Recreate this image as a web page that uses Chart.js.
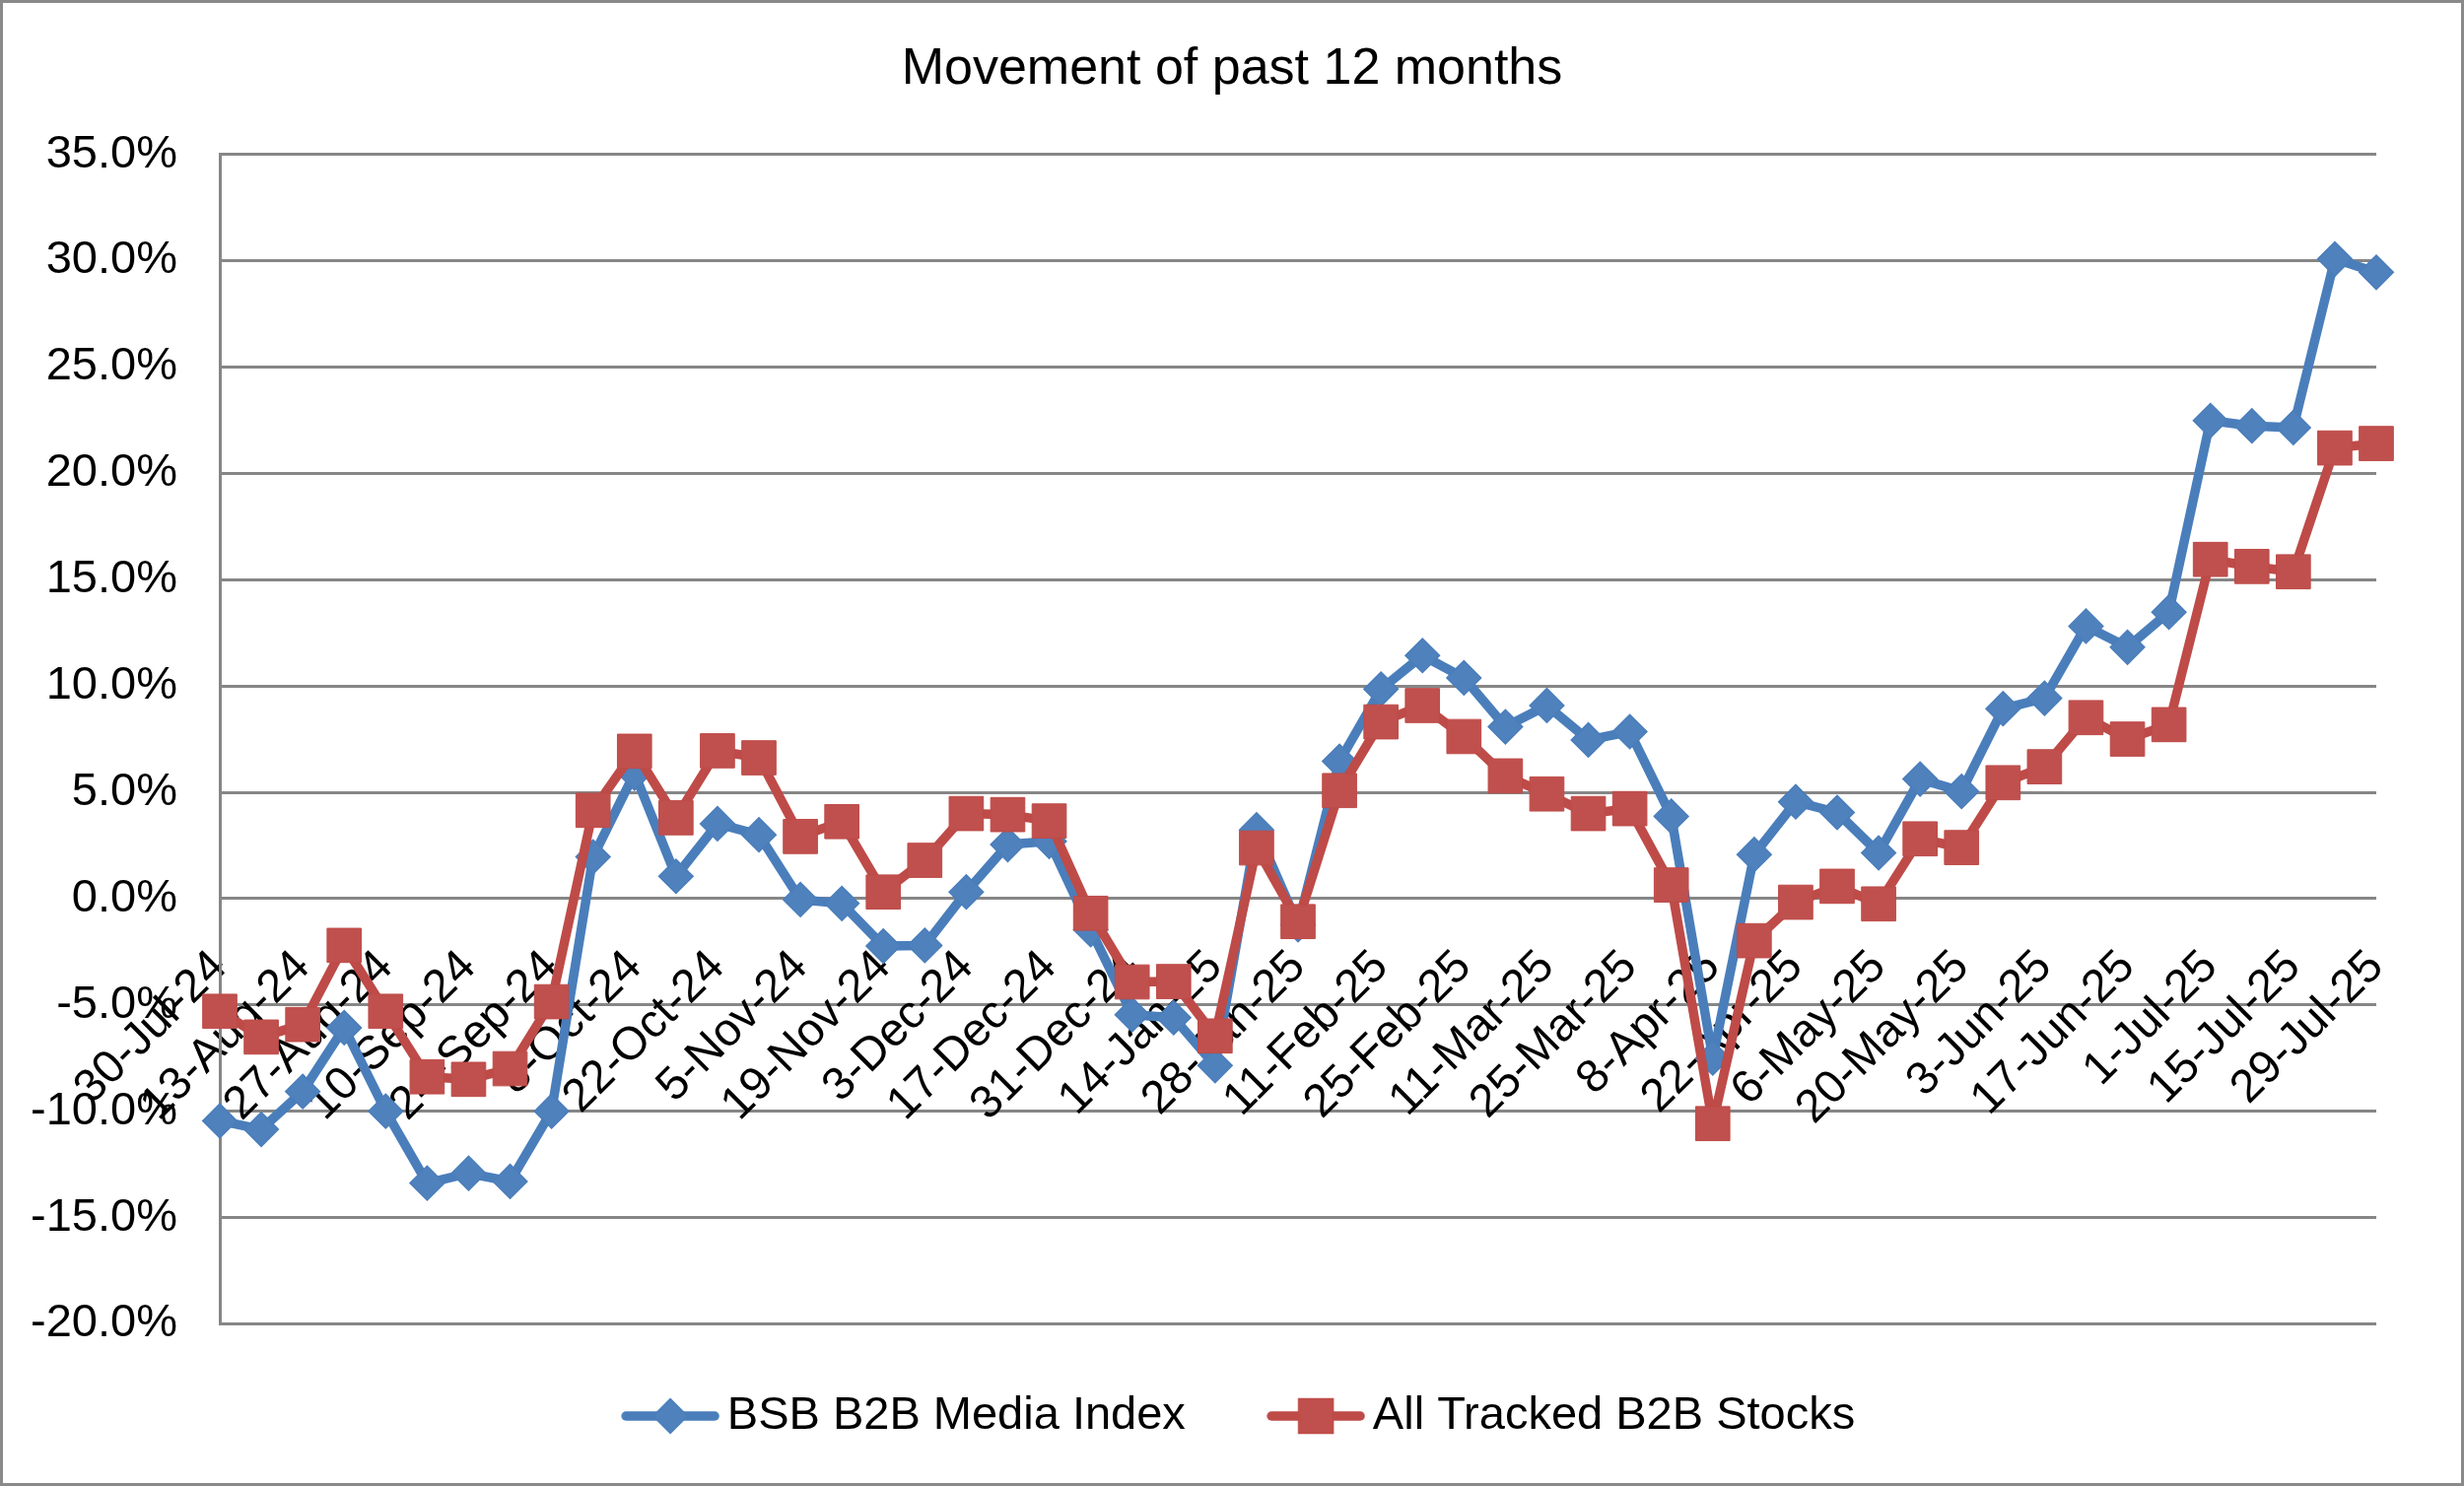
<!DOCTYPE html>
<html>
<head>
<meta charset="utf-8">
<script src="https://cdn.jsdelivr.net/npm/chart.js@4.4.1/dist/chart.umd.min.js"></script>
<style>
  html, body { margin: 0; padding: 0; background: #fff; overflow: hidden; }
  canvas { display: block; }
</style>
</head>
<body>
<canvas id="c" width="2500" height="1508"></canvas>
<script>
// ---------------- DATA ----------------
const chartTitle = 'Movement of past 12 months';
const seriesNames = ['BSB B2B Media Index', 'All Tracked B2B Stocks'];

const categories = [
  '30-Jul-24','6-Aug-24','13-Aug-24','20-Aug-24','27-Aug-24','3-Sep-24','10-Sep-24','17-Sep-24','24-Sep-24',
  '1-Oct-24','8-Oct-24','15-Oct-24','22-Oct-24','29-Oct-24','5-Nov-24','12-Nov-24','19-Nov-24','26-Nov-24',
  '3-Dec-24','10-Dec-24','17-Dec-24','24-Dec-24','31-Dec-24','7-Jan-25','14-Jan-25','21-Jan-25','28-Jan-25',
  '4-Feb-25','11-Feb-25','18-Feb-25','25-Feb-25','4-Mar-25','11-Mar-25','18-Mar-25','25-Mar-25','1-Apr-25',
  '8-Apr-25','15-Apr-25','22-Apr-25','29-Apr-25','6-May-25','13-May-25','20-May-25','27-May-25','3-Jun-25',
  '10-Jun-25','17-Jun-25','24-Jun-25','1-Jul-25','8-Jul-25','15-Jul-25','22-Jul-25','29-Jul-25'
];

const tickLabels = [
  '30-Jul-24','13-Aug-24','27-Aug-24','10-Sep-24','24-Sep-24','8-Oct-24','22-Oct-24','5-Nov-24','19-Nov-24',
  '3-Dec-24','17-Dec-24','31-Dec-24','14-Jan-25','28-Jan-25','11-Feb-25','25-Feb-25','11-Mar-25','25-Mar-25',
  '8-Apr-25','22-Apr-25','6-May-25','20-May-25','3-Jun-25','17-Jun-25','1-Jul-25','15-Jul-25','29-Jul-25'
];

const bsbIndex = [
  -10.45, -10.85, -9.07, -6.07, -10.0, -13.38, -12.92, -13.3, -10.0,
  1.96, 5.9, 1.05, 3.52, 3.0, -0.05, -0.23, -2.23, -2.2,
  0.31, 2.54, 2.69, -1.46, -5.46, -5.6, -7.85, 3.23, -1.23,
  6.46, 9.85, 11.43, 10.38, 8.08, 9.08, 7.46, 7.85, 3.87,
  -7.5, 2.07, 4.55, 4.05, 2.15, 5.62, 5.04, 8.93, 9.42,
  12.81, 11.82, 13.47, 22.48, 22.23, 22.15, 30.08, 29.45
];

const allTracked = [
  -5.30, -6.51, -5.92, -2.20, -5.30, -8.38, -8.50, -8.0, -4.85,
  4.15, 6.93, 3.8, 6.95, 6.62, 2.92, 3.62, 0.31, 1.8,
  4.0, 3.95, 3.65, -0.69, -3.92, -3.9, -6.46, 2.38, -1.08,
  5.08, 8.31, 9.08, 7.62, 5.77, 4.92, 4.0, 4.23, 0.64,
  -10.58, -1.98, -0.17, 0.58, -0.25, 2.81, 2.40, 5.45, 6.20,
  8.51, 7.5, 8.18, 15.95, 15.62, 15.37, 21.19, 21.40
];

const yMin = -20, yMax = 35, yStep = 5;

// ---------------- STYLE ----------------
const BLUE_LINE = '#4A7EBB', BLUE_FILL = '#4F81BD';
const RED_LINE = '#BE4B48', RED_FILL = '#C0504D';
const GRID = '#868686';
const FONT = "'Liberation Sans', Arial, Helvetica, sans-serif";
const LINE_W = 9.5;

function legendIcon(lineColor, fillColor, shape) {
  const c = document.createElement('canvas');
  c.width = 128; c.height = 44;
  const g = c.getContext('2d');
  g.strokeStyle = lineColor;
  g.lineWidth = LINE_W;
  g.lineCap = 'round';
  g.beginPath(); g.moveTo(33, 22); g.lineTo(123, 22); g.stroke();
  g.fillStyle = fillColor;
  g.lineWidth = 1.5;
  g.beginPath();
  if (shape === 'diamond') {
    g.moveTo(78 - 17.5, 22); g.lineTo(78, 22 - 17.5); g.lineTo(78 + 17.5, 22); g.lineTo(78, 22 + 17.5); g.closePath();
  } else {
    g.rect(78 - 17.5, 22 - 17.5, 35, 35);
  }
  g.fill(); g.stroke();
  return c;
}
const icons = [legendIcon(BLUE_LINE, BLUE_FILL, 'diamond'), legendIcon(RED_LINE, RED_FILL, 'square')];

const framePlugin = {
  id: 'frame',
  beforeDraw(chart) {
    const {ctx, width, height} = chart;
    ctx.save(); ctx.fillStyle = '#ffffff'; ctx.fillRect(0, 0, width, height); ctx.restore();
  },
  afterDraw(chart) {
    const {ctx, width, height} = chart;
    ctx.save(); ctx.strokeStyle = '#898989'; ctx.lineWidth = 3;
    ctx.strokeRect(1.5, 1.5, width - 3, height - 3); ctx.restore();
  }
};

new Chart(document.getElementById('c').getContext('2d'), {
  type: 'line',
  data: {
    labels: categories,
    datasets: [
      {
        label: seriesNames[0], data: bsbIndex,
        borderColor: BLUE_LINE, backgroundColor: BLUE_FILL, borderWidth: LINE_W,
        borderJoinStyle: 'round', borderCapStyle: 'round',
        pointStyle: 'rectRot', pointRadius: 17.3, pointHoverRadius: 17.3,
        pointBackgroundColor: BLUE_FILL, pointBorderColor: BLUE_LINE, pointBorderWidth: 1.5,
        tension: 0, fill: false, clip: false, order: 1
      },
      {
        label: seriesNames[1], data: allTracked,
        borderColor: RED_LINE, backgroundColor: RED_FILL, borderWidth: LINE_W,
        borderJoinStyle: 'round', borderCapStyle: 'round',
        pointStyle: 'rect', pointRadius: 24.5, pointHoverRadius: 24.5,
        pointBackgroundColor: RED_FILL, pointBorderColor: RED_LINE, pointBorderWidth: 1,
        tension: 0, fill: false, clip: false, order: 0
      }
    ]
  },
  options: {
    responsive: false,
    animation: false,
    devicePixelRatio: 1,
    layout: { padding: { left: 0, right: 0, top: 0, bottom: 37.5 } },
    plugins: {
      title: {
        display: true, text: chartTitle, color: '#000',
        font: { family: FONT, size: 52, weight: 'normal' },
        padding: { top: 39.5, bottom: 54.7 }
      },
      legend: {
        position: 'bottom', align: 'center',
        labels: {
          usePointStyle: true, pointStyleWidth: 96.5, padding: 70, color: '#000',
          font: { family: FONT, size: 47 },
          generateLabels(chart) {
            const items = Chart.defaults.plugins.legend.labels.generateLabels(chart);
            items.sort((a, b) => a.datasetIndex - b.datasetIndex);
            items.forEach(it => { it.pointStyle = icons[it.datasetIndex]; it.fontColor = '#000'; });
            return items;
          }
        }
      },
      tooltip: { enabled: false }
    },
    scales: {
      x: {
        position: { y: 0 },
        z: 1,
        grid: { display: false },
        border: { display: false },
        ticks: {
          autoSkip: false, minRotation: 45, maxRotation: 45, padding: 34,
          color: '#000', font: { family: FONT, size: 47 },
          callback(value, index) {
            const l = categories[index];
            return tickLabels.includes(l) ? l : '';
          }
        },
        afterFit(s) { s.height = 0; s.paddingLeft = 0; s.paddingRight = 89; }
      },
      y: {
        min: yMin, max: yMax,
        ticks: {
          stepSize: yStep, padding: 43, color: '#000',
          font: { family: FONT, size: 47 },
          callback: v => v.toFixed(1) + '%'
        },
        grid: { color: GRID, lineWidth: 3, drawTicks: false },
        border: { display: true, color: GRID, width: 3 },
        afterFit(s) { s.width = 223; }
      }
    }
  },
  plugins: [framePlugin]
});
</script>
</body>
</html>
